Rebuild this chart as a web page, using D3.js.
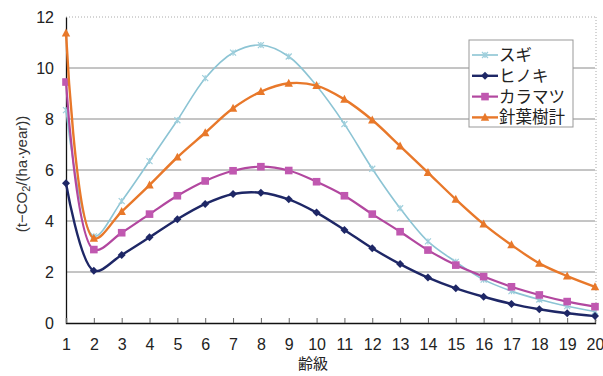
<!DOCTYPE html>
<html>
<head>
<meta charset="utf-8">
<script src="https://cdn.jsdelivr.net/npm/d3@7"></script>
<style>
  html, body { margin: 0; padding: 0; background: #fff; }
  svg { display: block; }
</style>
</head>
<body>
<svg id="chart" width="603" height="376"></svg>
<script>
// ---- data ----
const ageClasses = [1,2,3,4,5,6,7,8,9,10,11,12,13,14,15,16,17,18,19,20];
const sugi     = [8.35,3.4,4.78,6.35,7.95,9.6,10.6,10.9,10.45,9.3,7.8,6.05,4.5,3.2,2.4,1.7,1.25,0.92,0.66,0.45];
const hinoki   = [5.48,2.05,2.67,3.36,4.07,4.67,5.06,5.11,4.85,4.33,3.65,2.93,2.31,1.78,1.36,1.03,0.75,0.54,0.38,0.27];
const karamatsu= [9.45,2.88,3.54,4.27,4.99,5.57,5.97,6.13,5.98,5.54,4.99,4.27,3.58,2.86,2.27,1.82,1.42,1.1,0.84,0.64];
const total    = [11.37,3.32,4.37,5.41,6.5,7.46,8.42,9.07,9.4,9.31,8.77,7.96,6.94,5.9,4.85,3.88,3.06,2.34,1.84,1.42];
const seriesNames = ["スギ","ヒノキ","カラマツ","針葉樹計"];
const yTicks = [0,2,4,6,8,10,12];
const xTitle = "齢級";

const series = [
  {name: seriesNames[0], values: sugi,      color: "#8cc4d4", marker: "cross",   width: 1.6},
  {name: seriesNames[1], values: hinoki,    color: "#1e2766", marker: "diamond", width: 2.4},
  {name: seriesNames[2], values: karamatsu, color: "#b2479f", marker: "square",  width: 2.2},
  {name: seriesNames[3], values: total,     color: "#e8782a", marker: "triangle",width: 2.4}
];

const svg = d3.select("#chart");
const L = 66, R = 595, T = 17, B = 323;
const x = d3.scaleLinear().domain([1,20]).range([L,R]);
const y = d3.scaleLinear().domain([0,12]).range([B,T]);
const font = "'Liberation Sans', Arial, sans-serif";
const cjk = "'Liberation Sans', 'Noto Sans CJK JP', sans-serif";

// gridlines
svg.append("g").selectAll("line").data(yTicks.filter(d => d > 0 && d < 12)).join("line")
  .attr("x1", L).attr("x2", R).attr("y1", d => y(d)).attr("y2", d => y(d))
  .attr("stroke", "#8a8a8a").attr("stroke-width", 1);
// top & right dotted borders
svg.append("line").attr("x1", L).attr("x2", R).attr("y1", y(12)).attr("y2", y(12))
  .attr("stroke", "#aaa").attr("stroke-dasharray", "1,2");
svg.append("line").attr("x1", R+1).attr("x2", R+1).attr("y1", y(12)).attr("y2", B)
  .attr("stroke", "#aaa").attr("stroke-dasharray", "1,2");

// axes
const yAxis = d3.axisLeft(y).tickValues(yTicks).tickSize(0).tickPadding(12);
const gy = svg.append("g").attr("transform", `translate(${L},0)`).call(yAxis);
gy.select(".domain").attr("stroke", "#111").attr("stroke-width", 1.3);
gy.selectAll("text").attr("font-family", font).attr("font-size", 16).attr("fill", "#222");

const xAxis = d3.axisBottom(x).tickValues(ageClasses).tickFormat(d3.format("d")).tickSize(-5).tickPadding(16);
const gx = svg.append("g").attr("transform", `translate(0,${B})`).call(xAxis);
gx.select(".domain").attr("stroke", "#111").attr("stroke-width", 1.3);
gx.selectAll(".tick line").attr("stroke", "#666");
gx.selectAll("text").attr("font-family", font).attr("font-size", 16).attr("fill", "#222");

// titles
svg.append("text").attr("x", 313).attr("y", 369).attr("text-anchor", "middle")
  .attr("font-family", cjk).attr("font-size", 15).attr("fill", "#222").text(xTitle);
const yt = svg.append("text").attr("transform", "translate(27,174) rotate(-90)")
  .attr("text-anchor", "middle").attr("font-family", font).attr("font-size", 15).attr("fill", "#333");
yt.append("tspan").text("(t−CO");
yt.append("tspan").attr("font-size", 11).attr("dy", 3).text("2");
yt.append("tspan").attr("dy", -3).text("/(ha·year))");

// markers
function drawMarker(g, type, cx, cy, color, s) {
  if (type === "diamond") {
    g.append("path").attr("d", `M${cx},${cy-s}L${cx+s},${cy}L${cx},${cy+s}L${cx-s},${cy}Z`).attr("fill", color);
  } else if (type === "square") {
    g.append("rect").attr("x", cx-s).attr("y", cy-s).attr("width", 2*s).attr("height", 2*s).attr("fill", color);
  } else if (type === "triangle") {
    g.append("path").attr("d", `M${cx},${cy-s*1.1}L${cx+s},${cy+s*0.8}L${cx-s},${cy+s*0.8}Z`).attr("fill", color);
  } else {
    g.append("path").attr("d", `M${cx-s},${cy-s}L${cx+s},${cy+s}M${cx-s},${cy+s}L${cx+s},${cy-s}M${cx},${cy-s}L${cx},${cy+s}`)
      .attr("stroke", color).attr("stroke-width", 1.2).attr("fill", "none");
  }
}
const markerColor = {cross: "#9fcfdc", diamond: "#1e2766", square: "#c058b0", triangle: "#e8782a"};
const markerSize = {cross: 3, diamond: 4, square: 3.8, triangle: 4.2};

const line = d3.line().x((d,i) => x(ageClasses[i])).y(d => y(d)).curve(d3.curveCatmullRom.alpha(0.5));
series.forEach(s => {
  const g = svg.append("g");
  g.append("path").attr("d", line(s.values)).attr("fill", "none")
    .attr("stroke", s.color).attr("stroke-width", s.width).attr("stroke-linejoin", "round");
  s.values.forEach((v,i) => drawMarker(g, s.marker, x(ageClasses[i]), y(v), markerColor[s.marker], markerSize[s.marker]));
});

// legend
const lg = svg.append("g");
lg.append("rect").attr("x", 469).attr("y", 40).attr("width", 104).attr("height", 87)
  .attr("fill", "#fff").attr("stroke", "#999").attr("stroke-width", 1);
series.forEach((s,i) => {
  const cy = 55 + i*20.8;
  lg.append("line").attr("x1", 472).attr("x2", 498).attr("y1", cy).attr("y2", cy)
    .attr("stroke", s.color).attr("stroke-width", s.width);
  drawMarker(lg, s.marker, 485, cy, markerColor[s.marker], markerSize[s.marker]);
  lg.append("text").attr("x", 499).attr("y", cy + 6).attr("font-family", cjk).attr("font-size", 16.5)
    .attr("fill", "#222").text(s.name);
});
</script>
</body>
</html>
